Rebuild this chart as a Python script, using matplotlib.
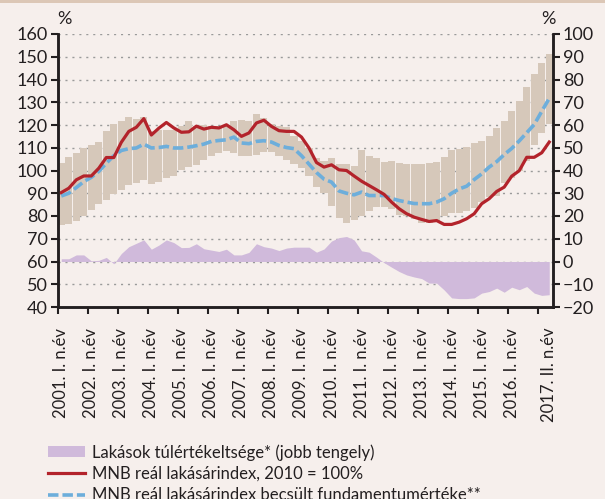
import numpy as np
import matplotlib
matplotlib.use("Agg")
import matplotlib.pyplot as plt
from matplotlib.patches import Patch, Rectangle
from matplotlib.lines import Line2D

# ==========================
# Adatok (negyedéves, 2001 I. - 2017 II.)
# ==========================
band_low = [
    76.0, 76.5, 78.0, 80.0,
    82.6, 85.3, 87.0, 89.7,
    91.5, 93.7, 94.7, 95.9,
    94.0, 95.1, 96.9, 97.8,
    100.3, 101.5, 102.5, 104.4,
    106.2, 107.6, 108.7, 107.9,
    106.2, 106.2, 106.9, 108.1,
    108.1, 106.5, 104.4, 102.8,
    101.3, 97.8, 92.9, 90.0,
    84.4, 79.3, 76.8, 78.2,
    80.0, 82.0, 84.0, 84.0,
    83.0, 80.5, 80.0, 78.5,
    77.0, 77.0, 78.0, 80.0,
    81.5, 81.5, 82.0, 83.5,
    86.0, 88.5, 89.0, 94.5,
    96.5, 100.0, 104.0, 111.0,
    116.6, 120.4,
]
band_high = [
    103.2, 105.9, 107.6, 109.9,
    111.0, 112.6, 117.5, 120.4,
    121.9, 123.5, 122.8, 123.5,
    117.3, 117.6, 117.6, 117.6,
    119.4, 121.9, 119.4, 120.1,
    119.4, 119.4, 119.4, 121.9,
    122.4, 121.6, 125.0, 123.1,
    120.6, 119.4, 119.1, 115.0,
    112.8, 109.9, 105.4, 104.0,
    105.4, 102.9, 102.9, 102.0,
    108.8, 106.4, 105.4, 103.8,
    104.0, 103.1, 103.0, 103.0,
    103.0, 103.2, 103.9, 105.8,
    109.0, 109.4, 110.5, 112.0,
    113.0, 115.2, 118.8, 121.9,
    126.2, 130.5, 136.6, 142.4,
    147.4, 151.2,
]
mnb_real = [
    90.3, 92.2, 95.9, 97.6,
    97.6, 101.0, 105.7, 105.7,
    112.4, 117.2, 119.0, 122.8,
    115.6, 118.6, 121.1, 118.7,
    116.8, 117.0, 119.5, 118.2,
    119.0, 118.7, 120.1, 117.9,
    115.0, 116.5, 120.9, 122.1,
    119.4, 117.5, 117.2, 117.2,
    114.7, 109.9, 103.5, 101.5,
    102.5, 100.3, 100.0, 97.6,
    95.3, 93.4, 91.5, 89.5,
    86.1, 83.2, 81.0, 79.5,
    78.5, 77.6, 78.0, 76.3,
    76.3, 77.3, 78.8, 81.0,
    85.4, 87.6, 90.8, 92.7,
    97.5, 99.9, 105.8, 105.8,
    107.8, 112.5,
]
fundamental = [
    88.8, 90.0, 92.5, 95.1,
    97.0, 99.6, 103.2, 106.5,
    108.8, 109.6, 109.9, 111.6,
    109.9, 110.1, 110.6, 109.9,
    109.9, 110.3, 110.9, 111.6,
    112.8, 113.2, 113.5, 114.7,
    112.1, 111.8, 112.8, 113.1,
    112.5, 111.0, 110.1, 109.6,
    106.5, 102.8, 99.1, 96.2,
    94.9, 91.0, 90.0, 89.3,
    90.5, 89.0, 89.0, 89.0,
    87.7, 86.8, 86.1, 85.5,
    85.4, 85.4, 86.1, 87.6,
    90.0, 91.9, 93.1, 96.0,
    98.5, 101.5, 103.9, 107.0,
    109.7, 113.0, 116.6, 120.2,
    126.0, 131.7,
]
overvaluation = [
    1.2, 1.2, 2.9, 2.9,
    0.3, 0.5, 1.8, -1.0,
    3.5, 6.5, 8.0, 9.5,
    5.4, 7.2, 9.5, 8.3,
    6.1, 6.2, 7.8, 5.6,
    5.0, 4.4, 5.4, 2.9,
    2.9, 4.0, 7.8, 6.5,
    5.9, 4.8, 5.9, 6.3,
    6.3, 6.3, 4.1, 5.5,
    9.0, 10.5, 11.0, 9.5,
    4.7, 4.1, 1.9, -0.5,
    -2.5, -4.4, -5.9, -6.8,
    -7.5, -9.5, -9.5, -12.5,
    -16.0, -16.3, -16.3, -16.0,
    -13.9, -13.2, -11.7, -13.5,
    -11.3, -12.4, -11.0, -13.9,
    -14.9, -14.6,
]
tick_labels = [
    "2001. I. n.év", "2002. I. n.év", "2003. I. n.év", "2004. I. n.év",
    "2005. I. n.év", "2006. I. n.év", "2007. I. n.év", "2008. I. n.év",
    "2009. I. n.év", "2010. I. n.év", "2011. I. n.év", "2012. I. n.év",
    "2013. I. n.év", "2014. I. n.év", "2015. I. n.év", "2016. I. n.év",
    "2017. II. n.év",
]
tick_pos = [0, 4, 8, 12, 16, 20, 24, 28, 32, 36, 40, 44, 48, 52, 56, 60, 65]
legend_labels = [
    "Lakások túlértékeltsége* (jobb tengely)",
    "MNB reál lakásárindex, 2010 = 100%",
    "MNB reál lakásárindex becsült fundamentumértéke**",
]

# ==========================
# Stílus
# ==========================
BG = "#F6EFEC"
TAN = "#D6C8BA"
PURPLE = "#D0BADB"
RED = "#B3232B"
BLUE = "#6DAEDB"
DARK = "#231F20"
FS_Y = 13
FS_X = 12
FS_LEG = 12

plt.rcParams["font.family"] = ["Lato", "DejaVu Sans"]
plt.rcParams["axes.unicode_minus"] = True

fig = plt.figure(figsize=(6.05, 4.99), dpi=100, facecolor=BG)
ax = fig.add_axes([57.5 / 605, 1 - 307 / 499, (553 - 57.5) / 605, (307 - 34) / 499])
ax.set_facecolor(BG)
ax2 = ax.twinx()

x = np.arange(len(mnb_real))
low = np.array(band_low)
high = np.array(band_high)

# sávok
ax.bar(x, high - low, bottom=low, width=0.94, color=TAN, linewidth=0, zorder=2)
# vonalak
ax.plot(x, fundamental, color=BLUE, lw=2.6, linestyle=(0, (2.9, 1.1)),
        solid_capstyle="butt", zorder=3)
ax.plot(x, mnb_real, color=RED, lw=2.3, zorder=4)
# túlértékeltség (jobb tengely)
ax2.fill_between(x, 0, overvaluation, color=PURPLE, linewidth=0, zorder=2)

ax.set_xlim(-0.5, len(x) - 0.5)
ax.set_ylim(40, 160)
ax2.set_ylim(-20, 100)
ax.set_yticks(np.arange(40, 161, 10))
ax2.set_yticks(np.arange(-20, 101, 10))

ax.yaxis.grid(True, linestyle=(0, (1.5, 3.5)), color="#9A9A9A", lw=1.0)
ax.set_axisbelow(True)

# x tengely: jelölők a negyedévhatárokon, feliratok a negyedév közepén
ax.set_xticks(np.arange(-0.5, 64, 4))
ax.set_xticklabels([])
ax.set_xticks(tick_pos, minor=True)
ax.set_xticklabels(tick_labels, minor=True, rotation=90, fontsize=FS_X, color=DARK)
ax.tick_params(axis="x", which="major", direction="out", length=5, width=1.5, color=DARK)
ax.tick_params(axis="x", which="minor", length=0, pad=15)

ax.tick_params(axis="y", direction="out", length=5, width=1.5, color=DARK,
               labelsize=FS_Y, labelcolor=DARK, pad=2)
ax2.tick_params(axis="y", direction="out", length=5, width=1.5, color=DARK,
                labelsize=FS_Y, labelcolor=DARK, pad=2)

for a in (ax, ax2):
    a.spines["top"].set_visible(False)
    for s in ("left", "right", "bottom"):
        a.spines[s].set_color(DARK)
        a.spines[s].set_linewidth(1.8)

fig.text(64 / 605, 1 - 19 / 499, "%", ha="center", va="center", fontsize=FS_Y, color=DARK)
fig.text(548 / 605, 1 - 19 / 499, "%", ha="center", va="center", fontsize=FS_Y, color=DARK)

# felső sáv
fig.add_artist(Rectangle((0, 1 - 3 / 499), 1, 3 / 499, transform=fig.transFigure,
                         color="#DCC7B6", linewidth=0))

handles = [
    Patch(facecolor=PURPLE, edgecolor="none"),
    Line2D([], [], color=RED, lw=2.3),
    Line2D([], [], color=BLUE, lw=2.6, linestyle=(0, (2.9, 1.1))),
]
fig.legend(handles, legend_labels, loc="upper left", bbox_to_anchor=(48 / 605, 1 - 444 / 499),
           frameon=False, fontsize=FS_LEG, handlelength=2.2, handleheight=0.6,
           labelspacing=0.32, handletextpad=0.45, borderpad=0, borderaxespad=0,
           labelcolor=DARK)

fig.savefig("out.png", dpi=100, facecolor=BG)
